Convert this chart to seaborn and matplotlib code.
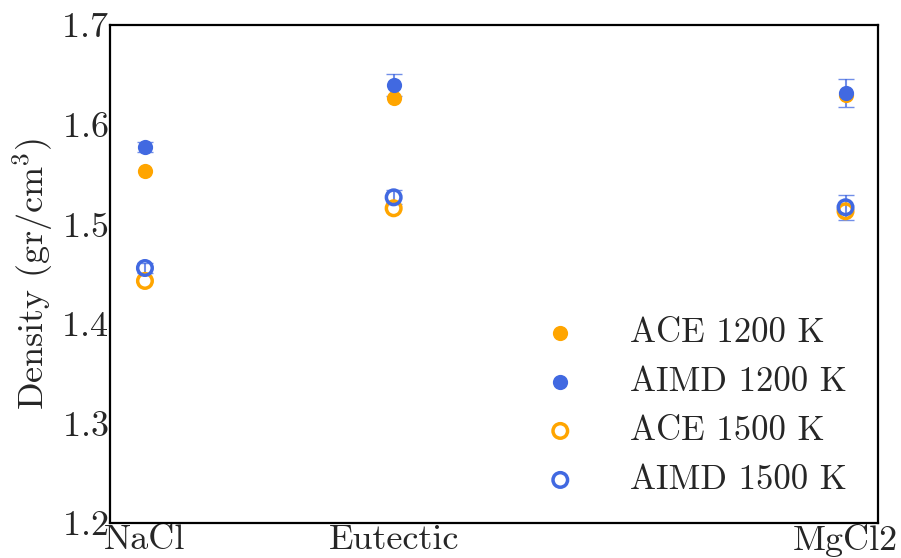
import numpy as np
import pandas as pd
import seaborn as sns
import matplotlib.pyplot as plt

# Compositions and their position along the x axis
salts = ['NaCl', 'Eutectic', 'MgCl2']
salt_pos = [0.0, 0.355, 1.0]

# Densities (gr/cm^3)
ace_1200 = [1.553, 1.627, 1.630]
aimd_1200 = [1.578, 1.640, 1.632]
ace_1500 = [1.443, 1.516, 1.513]
aimd_1500 = [1.456, 1.527, 1.517]

# Error bars on the AIMD values
aimd_1200_err = [0.005, 0.011, 0.014]
aimd_1500_err = [0.005, 0.007, 0.0125]

orange = '#FFA500'
blue = '#4169E1'

sns.set_style('white')
plt.rcParams['font.family'] = 'serif'
plt.rcParams['font.serif'] = ['cmr10']
plt.rcParams['mathtext.fontset'] = 'cm'
plt.rcParams['axes.formatter.use_mathtext'] = True

fig = plt.figure(figsize=(9.01, 5.58), dpi=100)
ax = fig.add_axes([0.122, 0.063, 0.853, 0.892])

series = [
    ('ACE 1200 K', ace_1200, None, orange, True),
    ('AIMD 1200 K', aimd_1200, aimd_1200_err, blue, True),
    ('ACE 1500 K', ace_1500, None, orange, False),
    ('AIMD 1500 K', aimd_1500, aimd_1500_err, blue, False),
]

for label, vals, err, col, filled in series:
    df = pd.DataFrame({'x': salt_pos, 'density': vals})
    if err is not None:
        ax.errorbar(df['x'], df['density'], yerr=err, fmt='none', ecolor=col,
                    elinewidth=1.5, capsize=6, capthick=1, alpha=0.75, zorder=3)
    if filled:
        sns.scatterplot(data=df, x='x', y='density', ax=ax, color=col, s=120,
                        edgecolor=col, linewidth=0, label=label, zorder=4)
    else:
        sns.scatterplot(data=df, x='x', y='density', ax=ax, s=110,
                        facecolor='none', edgecolor=col, linewidth=2.5,
                        label=label, zorder=4)

ax.set_xlim(-0.05, 1.047)
ax.set_ylim(1.2, 1.7)
ax.set_xticks(salt_pos)
ax.set_xticklabels(salts)
ax.set_yticks(np.arange(1.2, 1.71, 0.1))
ax.set_xlabel('')
ax.set_ylabel(r'Density (gr/cm$^3$)', fontsize=26, labelpad=4)
ax.tick_params(axis='both', length=0, labelsize=26, pad=1)

for side in ax.spines.values():
    side.set_color('black')
    side.set_linewidth(1.6)

leg = ax.legend(loc='lower right', frameon=False, fontsize=25,
                handletextpad=1.0, labelspacing=0.5, borderaxespad=0.3,
                bbox_to_anchor=(0.99, 0.005))

fig.savefig('out.png', dpi=100)
